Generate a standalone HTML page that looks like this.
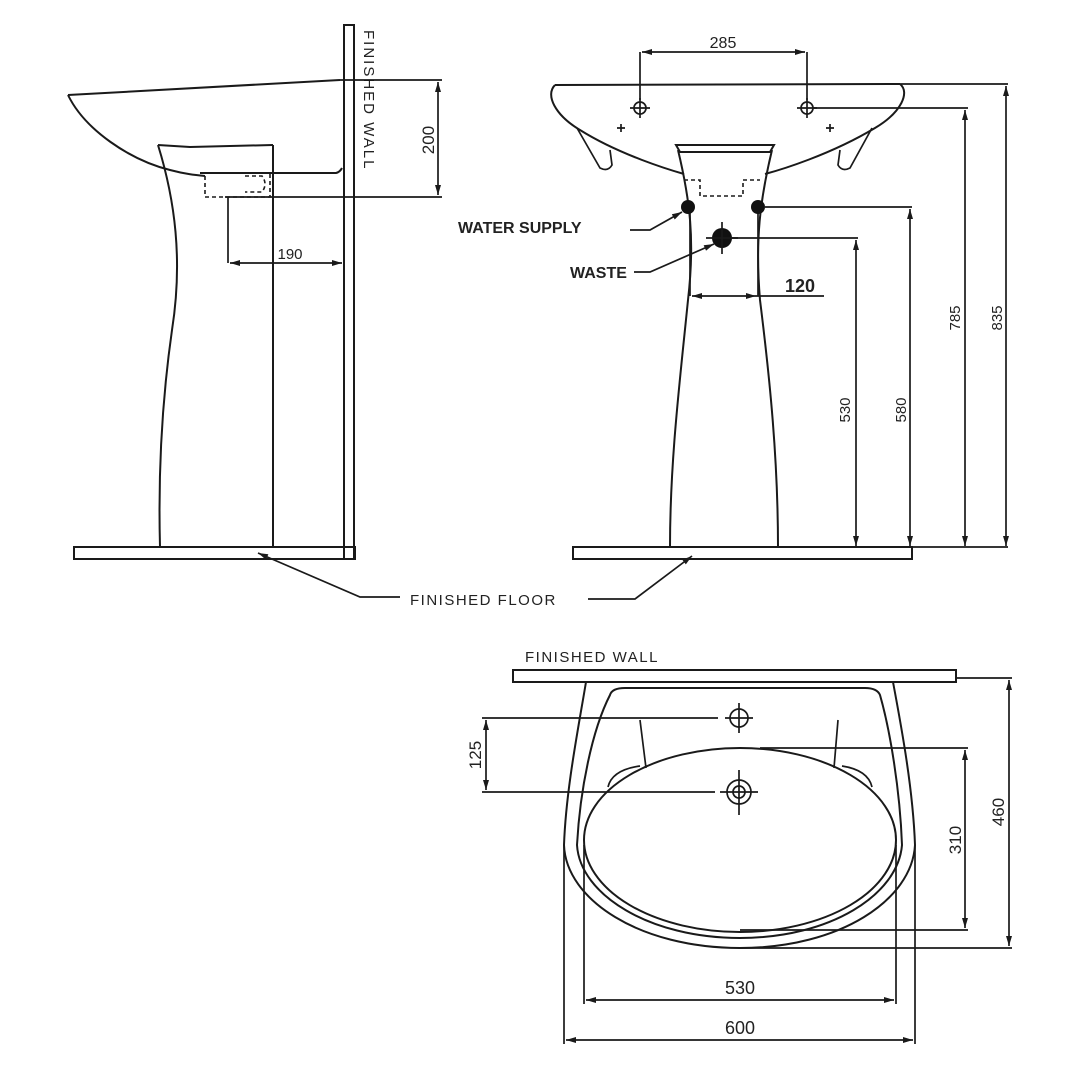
<!DOCTYPE html>
<html><head><meta charset="utf-8"><style>
html,body{margin:0;padding:0;background:#fff}
svg{display:block}
text{font-family:"Liberation Sans",sans-serif;fill:#222}
.l{stroke:#1a1a1a;stroke-width:2;fill:none}
.t{stroke:#1a1a1a;stroke-width:1.7;fill:none}
.d{stroke:#1a1a1a;stroke-width:1.6;fill:none;stroke-dasharray:4 3}
</style></head><body>
<svg width="1090" height="1090" viewBox="0 0 1090 1090" xmlns="http://www.w3.org/2000/svg">
<defs>
<marker id="a" viewBox="0 0 10 6" refX="10" refY="3" markerWidth="12" markerHeight="6" orient="auto-start-reverse" markerUnits="userSpaceOnUse"><path d="M0,0 L10,3 L0,6 Z" fill="#1a1a1a"/></marker>
</defs>

<!-- ========== SIDE VIEW ========== -->
<rect x="344" y="25" width="10" height="534" class="l"/>
<rect x="74" y="547" width="281" height="12" class="l"/>
<text x="0" y="0" font-size="15" letter-spacing="2" transform="translate(364,30) rotate(90)" fill="#333">FINISHED  WALL</text>
<path class="l" d="M68,95 L340,80"/>
<path class="l" d="M68,95 C85,130 130,160 170,170 C185,174 195,175 205,176"/>
<path class="l" d="M200,173 L336,173 Q340,172 342,168"/>
<path class="d" d="M205,176 L205,197 L270,197 L270,173"/>
<path class="d" d="M245,176 L262,176 Q268,184 262,192 L245,192"/>
<path class="l" d="M158,145 L190,147 L273,145"/>
<path class="l" d="M158,145 C175,200 183,260 172,330 C162,400 158,470 160,547"/>
<path class="l" d="M273,145 L273,547"/>
<path class="t" d="M340,80 L442,80"/>
<path class="t" d="M225,197 L442,197"/>
<path class="t" d="M438,82 L438,195" marker-start="url(#a)" marker-end="url(#a)"/>
<text font-size="17" transform="translate(434,140) rotate(-90)" text-anchor="middle">200</text>
<path class="t" d="M228,197 L228,263"/>
<path class="t" d="M230,263 L342,263" marker-start="url(#a)" marker-end="url(#a)"/>
<text x="290" y="259" font-size="15" text-anchor="middle">190</text>

<path class="t" d="M400,597 L360,597 L258,553" marker-end="url(#a)"/>
<text x="410" y="605" font-size="15" letter-spacing="1.5" fill="#333">FINISHED  FLOOR</text>
<path class="t" d="M588,599 L635,599 L692,556" marker-end="url(#a)"/>

<!-- ========== FRONT VIEW ========== -->
<rect x="573" y="547" width="339" height="12" class="l"/>
<path class="l" d="M555,85 L900,84"/>
<path class="l" d="M555,85 C545,95 555,115 580,130 C620,155 670,170 684,174"/>
<path class="l" d="M900,84 C910,92 902,112 875,128 C830,155 780,170 765,174"/>
<path class="t" d="M577,128 L600,168 Q608,172 612,165 L610,150"/>
<path class="t" d="M872,128 L850,168 Q842,172 838,165 L840,150"/>
<circle cx="640" cy="108" r="6" class="t"/><path class="t" d="M630,108 L650,108 M640,98 L640,118"/>
<circle cx="807" cy="108" r="6" class="t"/><path class="t" d="M797,108 L817,108 M807,98 L807,118"/>
<path class="t" d="M617,128 L625,128 M621,124 L621,132 M826,128 L834,128 M830,124 L830,132"/>
<path class="t" d="M640,52 L640,100 M807,52 L807,100"/>
<path class="t" d="M642,52 L805,52" marker-start="url(#a)" marker-end="url(#a)"/>
<text x="723" y="48" font-size="16" text-anchor="middle">285</text>
<path class="l" d="M676,145 L774,145 L770,152 L680,152 Z"/>
<path class="l" d="M678,150 C690,200 695,240 688,300 C680,380 670,460 670,547"/>
<path class="l" d="M772,150 C760,200 755,240 760,300 C770,380 778,460 778,547"/>
<path class="t" d="M690,205 L690,296 M758,205 L758,296"/>
<path class="d" d="M684,180 L700,180 L700,196 L743,196 L743,180 L760,180"/>
<circle cx="688" cy="207" r="7" fill="#111"/>
<circle cx="758" cy="207" r="7" fill="#111"/>
<circle cx="722" cy="238" r="10" fill="#111"/>
<path class="t" d="M722,222 L722,254 M706,238 L738,238"/>
<path class="t" d="M765,207 L912,207"/>
<path class="t" d="M732,238 L858,238"/>
<path class="t" d="M812,108 L968,108"/>
<path class="t" d="M900,84 L1008,84"/>
<path class="t" d="M910,209 L910,546" marker-start="url(#a)" marker-end="url(#a)"/>
<path class="t" d="M856,240 L856,546" marker-start="url(#a)" marker-end="url(#a)"/>
<path class="t" d="M965,110 L965,546" marker-start="url(#a)" marker-end="url(#a)"/>
<path class="t" d="M1006,86 L1006,546" marker-start="url(#a)" marker-end="url(#a)"/>
<path class="t" d="M912,547 L1008,547"/>
<text font-size="15" transform="translate(850,410) rotate(-90)" text-anchor="middle">530</text>
<text font-size="15" transform="translate(906,410) rotate(-90)" text-anchor="middle">580</text>
<text font-size="15" transform="translate(960,318) rotate(-90)" text-anchor="middle">785</text>
<text font-size="15" transform="translate(1002,318) rotate(-90)" text-anchor="middle">835</text>
<path class="t" d="M692,296 L756,296" marker-start="url(#a)" marker-end="url(#a)"/>
<path class="t" d="M756,296 L824,296"/>
<text x="800" y="292" font-size="18" text-anchor="middle" font-weight="bold">120</text>
<text x="458" y="233" font-size="16" font-weight="bold">WATER SUPPLY</text>
<path class="t" d="M630,230 L650,230 L682,212" marker-end="url(#a)"/>
<text x="570" y="278" font-size="16" font-weight="bold">WASTE</text>
<path class="t" d="M634,272 L650,272 L714,244" marker-end="url(#a)"/>

<!-- ========== PLAN VIEW ========== -->
<text x="525" y="662" font-size="15" letter-spacing="1.5" fill="#333">FINISHED  WALL</text>
<rect x="513" y="670" width="443" height="12" class="l"/>
<path class="l" d="M586,682 C578,730 566,790 564,845 C566,900 640,948 740,948 C840,948 912,900 915,845 C913,790 902,730 893,682"/>
<path class="l" d="M610,695 Q612,688 625,688 L865,688 Q877,688 880,695 C890,730 900,790 902,845 C898,895 830,938 740,938 C650,938 580,895 577,845 C580,790 592,730 610,695 Z"/>
<ellipse cx="740" cy="840" rx="156" ry="92" class="l"/>
<path class="t" d="M640,720 L646,768 M838,720 L834,768"/>
<path class="t" d="M608,787 Q612,770 640,766 M872,787 Q868,770 842,766"/>
<circle cx="739" cy="718" r="9" class="t"/><path class="t" d="M725,718 L753,718 M739,703 L739,733"/>
<circle cx="739" cy="792" r="12" class="t"/><circle cx="739" cy="792" r="6" class="t"/>
<path class="t" d="M720,792 L758,792 M739,770 L739,815"/>
<path class="t" d="M482,718 L718,718 M482,792 L715,792"/>
<path class="t" d="M486,720 L486,790" marker-start="url(#a)" marker-end="url(#a)"/>
<text font-size="17" transform="translate(481,755) rotate(-90)" text-anchor="middle">125</text>
<path class="t" d="M760,748 L968,748 M740,930 L968,930"/>
<path class="t" d="M965,750 L965,928" marker-start="url(#a)" marker-end="url(#a)"/>
<text font-size="17" transform="translate(961,840) rotate(-90)" text-anchor="middle">310</text>
<path class="t" d="M956,678 L1012,678 M740,948 L1012,948"/>
<path class="t" d="M1009,680 L1009,946" marker-start="url(#a)" marker-end="url(#a)"/>
<text font-size="17" transform="translate(1004,812) rotate(-90)" text-anchor="middle">460</text>
<path class="t" d="M584,845 L584,1004 M896,845 L896,1004"/>
<path class="t" d="M586,1000 L894,1000" marker-start="url(#a)" marker-end="url(#a)"/>
<text x="740" y="994" font-size="18" text-anchor="middle">530</text>
<path class="t" d="M564,845 L564,1044 M915,845 L915,1044"/>
<path class="t" d="M566,1040 L913,1040" marker-start="url(#a)" marker-end="url(#a)"/>
<text x="740" y="1034" font-size="18" text-anchor="middle">600</text>
</svg>
</body></html>
